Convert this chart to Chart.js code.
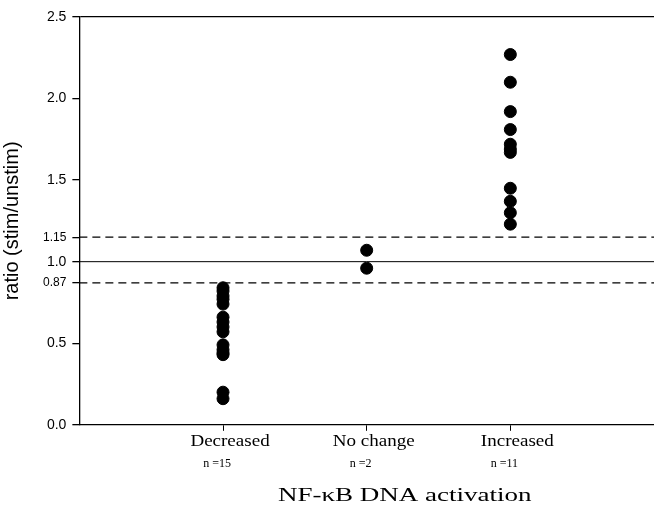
<!DOCTYPE html>
<html>
<head>
<meta charset="utf-8">
<script src="https://cdn.jsdelivr.net/npm/chart.js@4/dist/chart.umd.min.js"></script>
<style>
  html, body { margin: 0; padding: 0; background: #fff; }
  #wrap { width: 654px; height: 509px; }
</style>
</head>
<body>
<div id="wrap"><canvas id="plot" width="654" height="509"></canvas></div>
<script>
// categories and counts
const groups = ["Decreased", "No change", "Increased"];
const counts = ["n =15", "n =2", "n =11"];
const xTitle = "NF-κB DNA activation";

// ratio values
const decreased = [0.84, 0.82, 0.79, 0.77, 0.74, 0.66, 0.63, 0.60, 0.57, 0.49, 0.46, 0.44, 0.43, 0.20, 0.16];
const noChange = [1.07, 0.96];
const increased = [2.27, 2.10, 1.92, 1.81, 1.72, 1.69, 1.67, 1.45, 1.37, 1.30, 1.23];

// y ticks and reference lines
const yTicks = [0, 0.5, 0.87, 1.0, 1.15, 1.5, 2.0, 2.5];
const refSolid = 1.0;
const refDashed = [0.87, 1.15];

function points(vals, xPos) {
    return vals.map(v => ({ x: xPos, y: v }));
}
function hline(v) {
    return [{ x: 0, y: v }, { x: 4, y: v }];
}

const serif = "'Liberation Serif', 'Times New Roman', serif";

// text drawn horizontally stretched, like the scanned figure
function wideText(ctx, text, x, y, sx) {
    ctx.save();
    ctx.translate(x, y);
    ctx.scale(sx, 1);
    ctx.fillText(text, 0, 0);
    ctx.restore();
}

// category names, counts and x title under the axis
const xLabels = {
    id: "xLabels",
    afterDraw(chart) {
        const ctx = chart.ctx;
        const xs = chart.scales.x;
        const y0 = chart.chartArea.bottom;
        ctx.save();
        ctx.fillStyle = "#000";
        ctx.textAlign = "center";
        ctx.textBaseline = "middle";
        ctx.font = "17px " + serif;
        groups.forEach((g, i) => {
            wideText(ctx, g, xs.getPixelForValue(i + 1) + 7, y0 + 17, 1.12);
        });
        ctx.font = "12px " + serif;
        counts.forEach((c, i) => {
            wideText(ctx, c, xs.getPixelForValue(i + 1) - 6, y0 + 39, 1.0);
        });
        ctx.font = "18px " + serif;
        wideText(ctx, xTitle, xs.getPixelForValue(2) + 38, y0 + 71, 1.5);
        ctx.restore();
    }
};

const ctx = document.getElementById("plot");
new Chart(ctx, {
    type: "scatter",
    data: {
        datasets: [
            { data: points(decreased, 1), backgroundColor: "#000", borderColor: "#000", pointRadius: 6, pointHoverRadius: 6 },
            { data: points(noChange, 2), backgroundColor: "#000", borderColor: "#000", pointRadius: 6, pointHoverRadius: 6 },
            { data: points(increased, 3), backgroundColor: "#000", borderColor: "#000", pointRadius: 6, pointHoverRadius: 6 },
            { type: "line", data: hline(refSolid), borderColor: "#000", borderWidth: 1, pointRadius: 0, fill: false },
            { type: "line", data: hline(refDashed[0]), borderColor: "#000", borderWidth: 1.3, borderDash: [8, 5], pointRadius: 0, fill: false },
            { type: "line", data: hline(refDashed[1]), borderColor: "#000", borderWidth: 1.3, borderDash: [8, 5], pointRadius: 0, fill: false }
        ]
    },
    options: {
        responsive: false,
        animation: false,
        layout: { autoPadding: false, padding: { left: 0, right: 0, top: 17, bottom: 77 } },
        plugins: { legend: { display: false }, tooltip: { enabled: false } },
        scales: {
            x: {
                type: "linear",
                min: 0,
                max: 4,
                afterBuildTicks: axis => { axis.ticks = [1, 2, 3].map(v => ({ value: v })); },
                grid: { drawOnChartArea: false, color: "#000", tickLength: 6, lineWidth: 1 },
                border: { color: "#000", width: 1.3 },
                ticks: { display: true, padding: 0, maxRotation: 0, font: { size: 1 }, callback: () => "" },
                title: { display: false }
            },
            y: {
                min: 0,
                max: 2.5,
                afterBuildTicks: axis => { axis.ticks = yTicks.map(v => ({ value: v })); },
                grid: {
                    color: c => (c.tick && c.tick.value === 2.5 ? "#000" : "rgba(0,0,0,0)"),
                    tickColor: "#000",
                    tickLength: 7,
                    lineWidth: 1.3
                },
                border: { color: "#000", width: 1.3 },
                ticks: {
                    color: "#000",
                    padding: 6,
                    font: c => ({
                        family: "'Liberation Sans', Arial, sans-serif",
                        size: (c.tick && (c.tick.value === 0.87 || c.tick.value === 1.15)) ? 12 : 14
                    }),
                    callback: v => (v === 0.87 || v === 1.15) ? String(v) : v.toFixed(1)
                },
                title: {
                    display: true,
                    text: "ratio (stim/unstim)",
                    color: "#000",
                    font: { family: "'Liberation Sans', Arial, sans-serif", size: 20 },
                    padding: { top: 0, bottom: 13 }
                }
            }
        }
    },
    plugins: [xLabels]
});
</script>
</body>
</html>
